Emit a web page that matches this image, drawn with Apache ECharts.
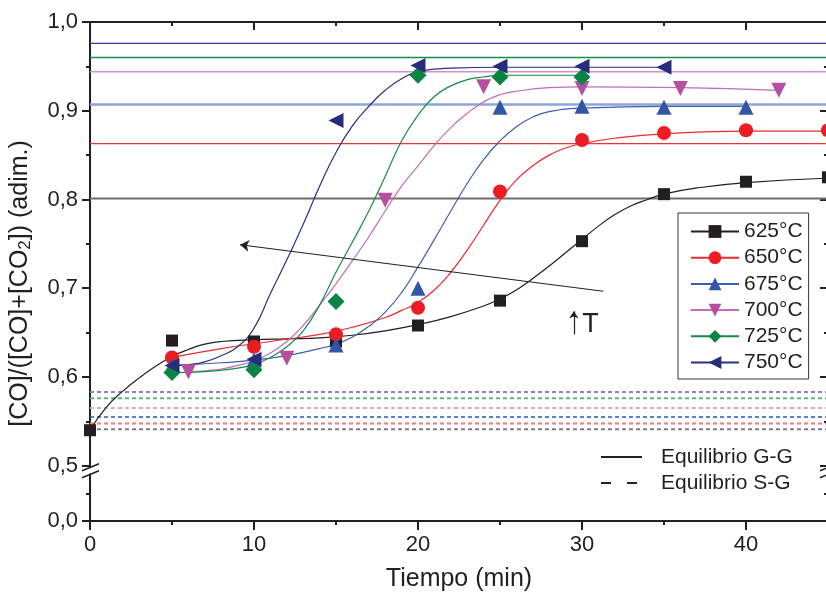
<!DOCTYPE html>
<html><head><meta charset="utf-8">
<script src="https://cdn.jsdelivr.net/npm/echarts@6/dist/echarts.min.js"></script>
<style>html,body{margin:0;padding:0;background:#fff}#c{width:826px;height:598px}</style>
</head><body><div id="c"></div>
<script>
// ---------- DATA ----------
const Y0 = 0.4377; // position of the "0,0" label on the broken axis
const seriesNames = ['625°C', '650°C', '675°C', '700°C', '725°C', '750°C'];

// measured points
const t625 = [0, 5, 10, 15, 20, 25, 30, 35, 40, 45];
const v625 = [0.540, 0.641, 0.640, 0.640, 0.658, 0.686, 0.753, 0.806, 0.820, 0.825];
const t650 = [5, 10, 15, 20, 25, 30, 35, 40, 45];
const v650 = [0.622, 0.634, 0.648, 0.678, 0.809, 0.867, 0.875, 0.878, 0.878];
const t675 = [5, 10, 15, 20, 25, 30, 35, 40];
const v675 = [0.613, 0.619, 0.636, 0.700, 0.904, 0.905, 0.904, 0.904];
const t700 = [6, 12, 18, 24, 30, 36, 42];
const v700 = [0.606, 0.621, 0.799, 0.927, 0.925, 0.925, 0.923];
const t725 = [5, 10, 15, 20, 25, 30];
const v725 = [0.605, 0.608, 0.685, 0.940, 0.938, 0.938];
const t750 = [5, 10, 15, 20, 25, 30, 35];
const v750 = [0.613, 0.620, 0.889, 0.951, 0.950, 0.950, 0.949];

// fitted curves
const c625t = [0, 1, 2, 3, 4, 5, 6, 7, 8, 10, 12, 14, 16, 18, 20, 22, 24, 25, 26, 27, 28, 29, 30, 31, 32, 33, 34, 35, 37, 40, 45];
const c625v = [0.540, 0.566, 0.584, 0.599, 0.612, 0.623, 0.631, 0.637, 0.640, 0.642, 0.643, 0.644, 0.647, 0.652, 0.659, 0.668, 0.680, 0.688, 0.698, 0.711, 0.725, 0.740, 0.755, 0.770, 0.783, 0.793, 0.800, 0.806, 0.813, 0.819, 0.824];
const c650t = [5, 8, 11, 14, 16, 18, 19, 20, 21, 22, 23, 24, 25, 26, 27, 28, 29, 30, 32, 35, 40, 45];
const c650v = [0.622, 0.632, 0.640, 0.648, 0.656, 0.667, 0.675, 0.684, 0.698, 0.718, 0.743, 0.771, 0.799, 0.822, 0.838, 0.850, 0.858, 0.863, 0.869, 0.874, 0.877, 0.877];
const c675t = [5, 8, 10, 12, 14, 15, 16, 17, 18, 19, 20, 21, 22, 23, 24, 25, 26, 27, 28, 30, 35, 40];
const c675v = [0.613, 0.616, 0.619, 0.624, 0.632, 0.637, 0.645, 0.657, 0.673, 0.695, 0.724, 0.755, 0.787, 0.818, 0.845, 0.866, 0.882, 0.893, 0.899, 0.903, 0.905, 0.905];
const c700t = [6, 7, 8, 9, 10, 11, 12, 13, 14, 15, 16, 17, 18, 19, 20, 21, 22, 23, 24, 25, 26, 28, 30, 36, 42];
const c700v = [0.606, 0.607, 0.609, 0.613, 0.618, 0.627, 0.640, 0.658, 0.681, 0.705, 0.731, 0.758, 0.787, 0.815, 0.838, 0.861, 0.881, 0.897, 0.910, 0.918, 0.922, 0.926, 0.927, 0.926, 0.923];
const c725t = [5, 7, 9, 10, 11, 12, 13, 14, 15, 16, 17, 18, 19, 20, 21, 22, 23, 24, 25, 30];
const c725v = [0.605, 0.606, 0.610, 0.614, 0.622, 0.634, 0.652, 0.681, 0.718, 0.752, 0.787, 0.826, 0.866, 0.895, 0.916, 0.928, 0.935, 0.938, 0.940, 0.940];
const c750t = [5, 6, 7, 8, 9, 10, 11, 12, 13, 14, 15, 16, 17, 18, 19, 20, 22, 25, 30, 35];
const c750v = [0.613, 0.614, 0.617, 0.624, 0.634, 0.655, 0.694, 0.732, 0.772, 0.815, 0.853, 0.883, 0.905, 0.923, 0.936, 0.944, 0.948, 0.949, 0.949, 0.949];

// equilibrium levels (625..750)
const eqGG = [0.801, 0.863, 0.907, 0.944, 0.960, 0.976];
const eqSG = [0.541, 0.5475, 0.555, 0.565, 0.576, 0.583];
const eqNames = ['Equilibrio G-G', 'Equilibrio S-G'];

// annotation arrow (from, to) and "T" arrow
const trendT = [31.3, 9.15];
const trendV = [0.6966, 0.749];
const tArrowT = [29.5, 29.5];
const tArrowV = [0.648, 0.674];
const tLabelPos = [30.52, 0.6588];

// axis ticks
const xMax = 45;
const xTicks = [0, 10, 20, 30, 40];
const xMinor = [5, 15, 25, 35, 45];
const yTicks = [Y0, 0.5, 0.6, 0.7, 0.8, 0.9, 1.0];
const yMinor = [(Y0 + 0.5) / 2, 0.55, 0.65, 0.75, 0.85, 0.95];

// ---------- STYLE ----------
const FONT = '"Liberation Sans", Arial, Helvetica, sans-serif';
const AX = '#231f20';
const colors = ['#231f20', '#ed1c24', '#3355a6', '#b4509f', '#0a8442', '#262d7c'];
const curveColors = ['#231f20', '#ed2a2f', '#3e5fb0', '#c46cb8', '#168a4c', '#2a3080'];
const symbols = ['rect', 'circle', 'triangle', 'triangle', 'diamond', 'triangle'];
const rotates = [0, 0, 0, 180, 0, 90];
const sizes = [12, 14, 15, 15, 17, 15];
const ggColors = ['#6d6d6d', '#e8353a', '#8ea6d6', '#d68fc9', '#1b8a4e', '#3a3f94'];
const ggWidths = [2, 1.3, 2.6, 1.6, 1.3, 1.3];
const sgColors = ['#7d7d7d', '#f27d7d', '#2f52ba', '#e2a6da', '#5db482', '#8585c2'];
const sgWidths = [2, 2, 1.5, 2, 2, 2];

const tArr = [t625, t650, t675, t700, t725, t750];
const vArr = [v625, v650, v675, v700, v725, v750];
const ctArr = [c625t, c650t, c675t, c700t, c725t, c750t];
const cvArr = [c625v, c650v, c675v, c700v, c725v, c750v];
const zip = (a, b) => a.map((x, i) => [x, b[i]]);

const series = [];
// equilibrium lines
eqGG.forEach((v, i) => series.push({
  type: 'line', data: [[0, v], [xMax, v]], symbol: 'none', silent: true, z: 1,
  lineStyle: { color: ggColors[i], width: ggWidths[i] }
}));
eqSG.forEach((v, i) => series.push({
  type: 'line', data: [[0, v], [xMax, v]], symbol: 'none', silent: true, z: 1,
  lineStyle: { color: sgColors[i], width: sgWidths[i], type: [4, 3] }
}));
// fit curves (carry the legend icon)
seriesNames.forEach((n, i) => series.push({
  type: 'line', name: n, data: zip(ctArr[i], cvArr[i]), smooth: 0.5,
  showSymbol: false, symbol: symbols[i], symbolRotate: rotates[i], z: 2,
  lineStyle: { color: curveColors[i], width: 1.2 }, itemStyle: { color: colors[i] }
}));
// measured points
seriesNames.forEach((n, i) => series.push({
  type: 'scatter', name: n, data: zip(tArr[i], vArr[i]), symbol: symbols[i],
  symbolRotate: rotates[i], symbolSize: sizes[i], z: 3,
  itemStyle: { color: colors[i], opacity: 1 }
}));
// legend-only series for equilibrium styles
series.push({ type: 'line', name: eqNames[0], data: [], symbol: 'none', lineStyle: { color: '#222', width: 2 }, itemStyle: { color: '#222' } });
series.push({ type: 'line', name: eqNames[1], data: [], symbol: 'none', lineStyle: { color: '#222', width: 2, type: [10, 16] }, itemStyle: { color: '#222' } });
// annotations
series.push({
  type: 'line', data: [], silent: true, z: 4,
  markLine: {
    silent: true, animation: false, symbol: ['none', 'arrow'], symbolSize: 9,
    lineStyle: { color: '#222', width: 1.2, type: 'solid' }, label: { show: false },
    data: [
      [{ coord: [trendT[0], trendV[0]] }, { coord: [trendT[1], trendV[1]] }],
      [{ coord: [tArrowT[0], tArrowV[0]], symbolSize: 0 }, { coord: [tArrowT[1], tArrowV[1]], symbolSize: 7 }]
    ]
  },
  markPoint: {
    silent: true, animation: false,
    data: [{ coord: tLabelPos, symbol: 'circle', symbolSize: 1, itemStyle: { color: 'rgba(0,0,0,0)' },
      label: { show: true, position: 'inside', formatter: 'T', fontSize: 27, color: '#222', fontFamily: FONT } }]
  }
});

const axLine = { show: true, onZero: false, lineStyle: { color: AX, width: 2 } };
const tickStyle = { color: AX, width: 2 };
const baseX = { type: 'value', min: 0, max: xMax, gridIndex: 0, splitLine: { show: false } };
const baseY = { type: 'value', min: Y0, max: 1, gridIndex: 0, splitLine: { show: false } };
const fmtY = v => (v < 0.45 ? '0,0' : v.toFixed(1).replace('.', ','));

const option = {
  animation: false,
  backgroundColor: '#fff',
  textStyle: { fontFamily: FONT },
  grid: { left: 90, top: 22, width: 738, height: 499, containLabel: false, outerBoundsMode: 'none' },
  xAxis: [
    Object.assign({}, baseX, {
      position: 'bottom', axisLine: axLine,
      axisTick: { show: true, length: 9, customValues: xTicks, lineStyle: tickStyle },
      axisLabel: { show: true, customValues: xTicks, fontSize: 22, color: AX, margin: 13, fontFamily: FONT },
      name: 'Tiempo (min)', nameLocation: 'middle', nameGap: 46,
      nameTextStyle: { fontSize: 25, color: AX, fontFamily: FONT }
    }),
    Object.assign({}, baseX, { position: 'bottom', axisLine: { show: false, onZero: false },
      axisTick: { show: true, length: 4, customValues: xMinor, lineStyle: tickStyle }, axisLabel: { show: false } }),
    Object.assign({}, baseX, { position: 'top', axisLine: axLine,
      axisTick: { show: true, inside: true, length: 8, customValues: xTicks, lineStyle: tickStyle }, axisLabel: { show: false } }),
    Object.assign({}, baseX, { position: 'top', axisLine: { show: false, onZero: false },
      axisTick: { show: true, inside: true, length: 4, customValues: xMinor, lineStyle: tickStyle }, axisLabel: { show: false } })
  ],
  yAxis: [
    Object.assign({}, baseY, {
      position: 'left', axisLine: axLine,
      axisTick: { show: true, length: 8, customValues: yTicks, lineStyle: tickStyle },
      axisLabel: { show: true, customValues: yTicks, formatter: fmtY, fontSize: 22, color: AX, margin: 12, fontFamily: FONT },
      name: '[CO]/([CO]+[CO{sub|2}]) (adim.)', nameLocation: 'middle', nameGap: 56, nameRotate: 90,
      nameTextStyle: { fontSize: 25, color: AX, fontFamily: FONT, lineHeight: 28, padding: [0, 24, 0, 0],
        rich: { sub: { fontSize: 17, color: AX, fontFamily: FONT, verticalAlign: 'bottom', lineHeight: 17 } } }
    }),
    Object.assign({}, baseY, { position: 'left', axisLine: { show: false, onZero: false },
      axisTick: { show: true, length: 4, customValues: yMinor, lineStyle: tickStyle }, axisLabel: { show: false } }),
    Object.assign({}, baseY, { position: 'right', axisLine: axLine,
      axisTick: { show: true, inside: true, length: 8, customValues: yTicks, lineStyle: tickStyle }, axisLabel: { show: false } }),
    Object.assign({}, baseY, { position: 'right', axisLine: { show: false, onZero: false },
      axisTick: { show: true, inside: true, length: 4, customValues: yMinor, lineStyle: tickStyle }, axisLabel: { show: false } })
  ],
  legend: [
    {
      data: seriesNames, orient: 'vertical', left: 678, top: 213, padding: [8, 6, 6, 12],
      itemWidth: 48, itemHeight: 16, itemGap: 5.2, selectedMode: false,
      borderColor: '#333', borderWidth: 1, backgroundColor: '#fff',
      textStyle: { fontSize: 21, color: AX, fontFamily: FONT, lineHeight: 21 }
    },
    {
      data: eqNames.map(n => ({ name: n, itemStyle: { opacity: 0 } })),
      orient: 'vertical', left: 600, top: 446.5, padding: 0,
      itemWidth: 41, itemHeight: 14, itemGap: 5, selectedMode: false,
      textStyle: { fontSize: 21, color: AX, fontFamily: FONT, lineHeight: 21, padding: [0, 0, 0, 14] }
    }
  ],
  series: series
};

const chart = echarts.init(document.getElementById('c'), null, { renderer: 'canvas' });
chart.setOption(option);

// axis-break marks, positioned through the axes
const xa = chart.convertToPixel({ xAxisIndex: 0 }, 0);
const xb = chart.convertToPixel({ xAxisIndex: 0 }, xMax);
const yb = chart.convertToPixel({ yAxisIndex: 0 }, 0.5);
function breakMark(x) {
  return [
    { type: 'rect', shape: { x: x - 3, y: yb + 2, width: 6, height: 6 }, style: { fill: '#fff' }, z: 100 },
    { type: 'line', shape: { x1: x - 8, y1: yb + 5, x2: x + 9, y2: yb - 2 }, style: { stroke: AX, lineWidth: 1.6 }, z: 101 },
    { type: 'line', shape: { x1: x - 8, y1: yb + 12, x2: x + 9, y2: yb + 5 }, style: { stroke: AX, lineWidth: 1.6 }, z: 101 }
  ];
}
chart.setOption({ graphic: breakMark(xa).concat(breakMark(xb)) });
</script>
</body></html>
